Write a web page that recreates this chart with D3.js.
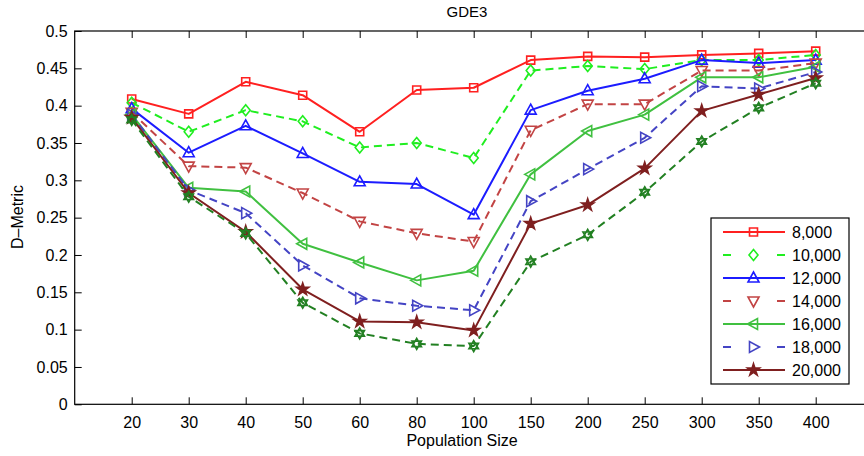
<!DOCTYPE html>
<html>
<head>
<meta charset="utf-8">
<script src="https://cdn.jsdelivr.net/npm/d3@7"></script>
<style>
  body { margin: 0; background: #fff; }
  text { font-family: "Liberation Sans", Arial, sans-serif; fill: #000; }
  .axis path, .axis line { stroke: #000; stroke-width: 1; }
</style>
</head>
<body>
<div id="chart"></div>
<script>
var w = 864, h = 456;

var categories = [20, 30, 40, 50, 60, 80, 100, 150, 200, 250, 300, 350, 400];

var s8000  = [0.409, 0.389, 0.432, 0.414, 0.365, 0.421, 0.424, 0.461, 0.466, 0.465, 0.468, 0.470, 0.473];
var s10000 = [0.404, 0.365, 0.394, 0.379, 0.344, 0.350, 0.330, 0.447, 0.453, 0.449, 0.461, 0.461, 0.468];
var s12000 = [0.396, 0.337, 0.373, 0.336, 0.298, 0.295, 0.254, 0.394, 0.420, 0.436, 0.461, 0.457, 0.461];
var s14000 = [0.391, 0.319, 0.317, 0.283, 0.245, 0.229, 0.218, 0.367, 0.402, 0.402, 0.447, 0.447, 0.457];
var s16000 = [0.388, 0.290, 0.285, 0.215, 0.190, 0.166, 0.179, 0.308, 0.366, 0.388, 0.438, 0.438, 0.452];
var s18000 = [0.388, 0.287, 0.256, 0.186, 0.142, 0.132, 0.126, 0.272, 0.315, 0.357, 0.426, 0.423, 0.445];
var s20000 = [0.384, 0.283, 0.231, 0.154, 0.111, 0.110, 0.099, 0.242, 0.267, 0.316, 0.393, 0.415, 0.437];
// extra series drawn in the plot but not listed in the legend
var sExtra = [0.381, 0.278, 0.229, 0.136, 0.095, 0.081, 0.078, 0.191, 0.227, 0.284, 0.352, 0.397, 0.430];

var yTicks = [0, 0.05, 0.1, 0.15, 0.2, 0.25, 0.3, 0.35, 0.4, 0.45, 0.5];
var legendLabels = ["8,000", "10,000", "12,000", "14,000", "16,000", "18,000", "20,000"];

var series = [
  {values: s8000,  color: "#ff2020", dash: null,  marker: "square"},
  {values: s10000, color: "#20ee20", dash: "8,5", marker: "diamond"},
  {values: s12000, color: "#1c1cff", dash: null,  marker: "up"},
  {values: s14000, color: "#c24444", dash: "8,5", marker: "down"},
  {values: s16000, color: "#40c040", dash: null,  marker: "left"},
  {values: s18000, color: "#4444c4", dash: "8,5", marker: "right"},
  {values: s20000, color: "#7f1f1f", dash: null,  marker: "star"},
  {values: sExtra, color: "#228022", dash: "8,5", marker: "hex"}
];

var plotL = 74.7, plotR = 872.7, plotT = 31, plotB = 404.3;

var x = d3.scaleLinear().domain([0, 14]).range([plotL, plotR]);
var y = d3.scaleLinear().domain([0, 0.5]).range([plotB, plotT]);

/*
 * marker paths, centred on 0,0
 */
function markerPath(kind){
  switch(kind){
    case "square":  return "M-4,-4h8v8h-8z";
    case "diamond": return "M0,-5.5L4.5,0L0,5.5L-4.5,0Z";
    case "up":      return "M0,-6L5.5,4L-5.5,4Z";
    case "down":    return "M0,6L5.5,-4L-5.5,-4Z";
    case "left":    return "M-6,0L4,-5.5L4,5.5Z";
    case "right":   return "M6,0L-4,-5.5L-4,5.5Z";
    case "star":    return d3.symbol().type(d3.symbolStar).size(45)();
    case "hex":
      var r = 5.5, p = [];
      for(var k = 0; k < 6; k++){
        var a = -Math.PI/2 + k*Math.PI/3;
        p.push([r*Math.cos(a), r*Math.sin(a)]);
      }
      return "M" + p[0] + "L" + p[2] + "L" + p[4] + "Z" +
             "M" + p[1] + "L" + p[3] + "L" + p[5] + "Z";
  }
}

var svg = d3.select("#chart").append("svg").attr("width", w).attr("height", h);

/*
 * axes
 */
var yAxis = d3.axisLeft(y).tickValues(yTicks).tickSizeInner(-7).tickSizeOuter(0).tickPadding(7)
  .tickFormat(function(d){ return String(+d.toFixed(2)); });
svg.append("g").attr("class", "axis").attr("transform", "translate(" + plotL + ",0)").call(yAxis)
  .selectAll("text").style("font-size", "16px");

var xAxis = d3.axisBottom(x).tickValues(d3.range(1, 14)).tickSizeInner(-7).tickSizeOuter(0).tickPadding(12)
  .tickFormat(function(d){ return categories[d - 1]; });
svg.append("g").attr("class", "axis").attr("transform", "translate(0," + plotB + ")").call(xAxis)
  .selectAll("text").style("font-size", "16px");

var xTop = d3.axisTop(x).tickValues(d3.range(1, 14)).tickSizeInner(-7).tickSizeOuter(0).tickFormat("");
svg.append("g").attr("class", "axis").attr("transform", "translate(0," + plotT + ")").call(xTop);

svg.selectAll(".axis .domain").remove();
svg.append("rect").attr("x", plotL).attr("y", plotT).attr("width", plotR - plotL).attr("height", plotB - plotT)
  .attr("fill", "none").attr("stroke", "#000").attr("stroke-width", 1.2);

/*
 * lines and markers
 */
var line = d3.line().x(function(d, i){ return x(i + 1); }).y(function(d){ return y(d); });

for(var i in series){
  var s = series[i];
  svg.append("path").attr("d", line(s.values)).attr("fill", "none")
    .attr("stroke", s.color).attr("stroke-width", 2).attr("stroke-dasharray", s.dash)
    .attr("stroke-linejoin", "round");
  svg.selectAll(".m" + i).data(s.values).enter().append("path").attr("class", "m" + i)
    .attr("d", markerPath(s.marker))
    .attr("transform", function(d, j){ return "translate(" + x(j + 1) + "," + y(d) + ")"; })
    .attr("fill", s.marker == "star" ? s.color : "none")
    .attr("stroke", s.color).attr("stroke-width", 1.6);
}

/*
 * title and labels
 */
svg.append("text").attr("x", 467).attr("y", 17).attr("text-anchor", "middle").style("font-size", "15px").text("GDE3");
svg.append("text").attr("x", 462).attr("y", 446).attr("text-anchor", "middle").style("font-size", "16px").text("Population Size");
svg.append("text").attr("transform", "translate(23,217) rotate(-90)").attr("text-anchor", "middle")
  .style("font-size", "16px").text("D\u2013Metric");

/*
 * legend
 */
var lg = svg.append("g");
lg.append("rect").attr("x", 711).attr("y", 218).attr("width", 138).attr("height", 166)
  .attr("fill", "#fff").attr("stroke", "#000").attr("stroke-width", 1.2);
for(var i = 0; i < legendLabels.length; i++){
  var s = series[i], ly = 232 + i*23;
  var segs = s.dash ? [[723, 731], [777, 785]] : [[723, 785]];
  for(var k in segs){
    lg.append("line").attr("x1", segs[k][0]).attr("x2", segs[k][1]).attr("y1", ly).attr("y2", ly)
      .attr("stroke", s.color).attr("stroke-width", 2);
  }
  lg.append("path").attr("d", markerPath(s.marker)).attr("transform", "translate(753.5," + ly + ")")
    .attr("fill", s.marker == "star" ? s.color : "none").attr("stroke", s.color).attr("stroke-width", 1.6);
  lg.append("text").attr("x", 792).attr("y", ly + 6).style("font-size", "16px").text(legendLabels[i]);
}
</script>
</body>
</html>
